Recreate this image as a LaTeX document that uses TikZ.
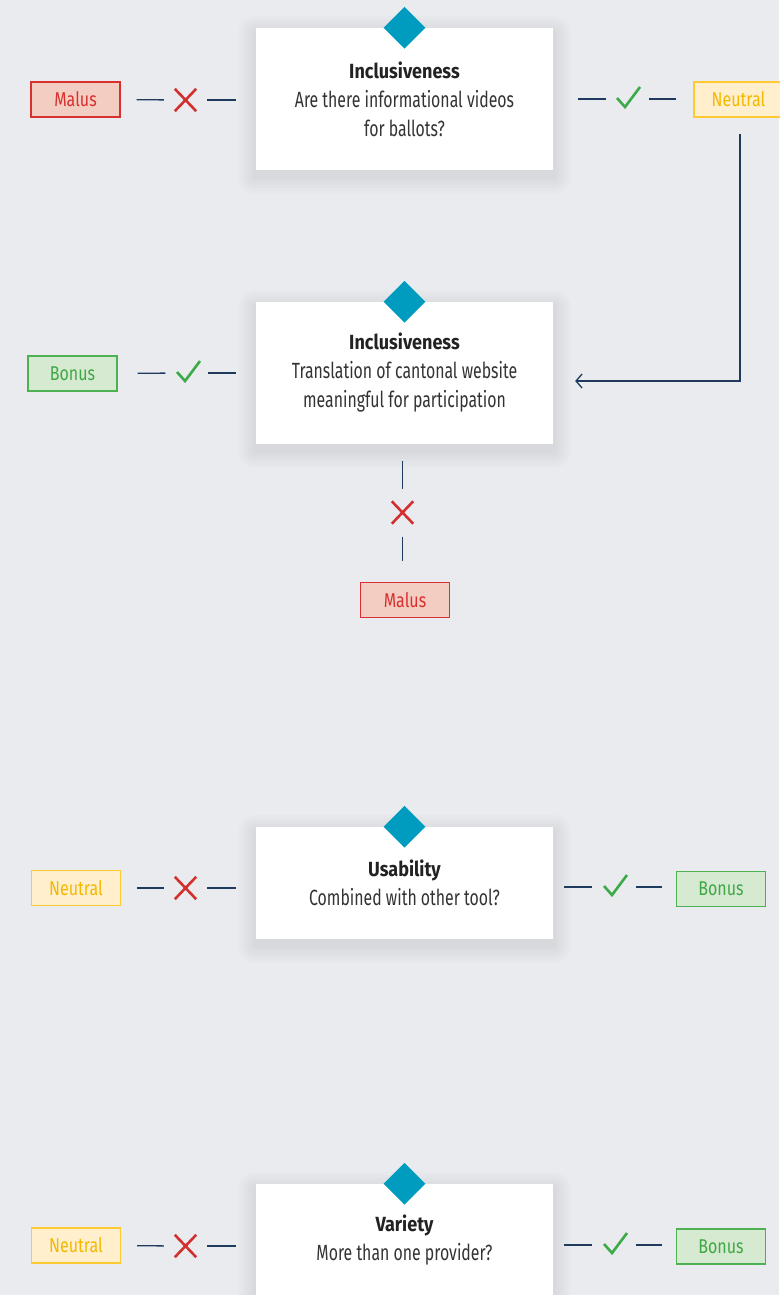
\documentclass[tikz,border=0pt]{standalone}
\usepackage{fontspec}
\setmainfont[FakeStretch=0.72]{Fira Sans}
\newfontfamily\ttlfont[FakeStretch=0.88]{Fira Sans}
\newfontfamily\tagfont[FakeStretch=0.8]{Fira Sans}
\usetikzlibrary{shapes.geometric,arrows.meta,calc}
\definecolor{bgc}{HTML}{E9EBEF}
\definecolor{teal}{HTML}{009CC0}
\definecolor{navy}{HTML}{1E3A5F}
\definecolor{txt}{HTML}{333333}
\definecolor{ttl}{HTML}{222222}
\definecolor{redL}{HTML}{D7302F}
\definecolor{redF}{HTML}{F4CDC2}
\definecolor{yelL}{HTML}{FFC933}
\definecolor{yelF}{HTML}{FFEFCC}
\definecolor{yelT}{HTML}{F5B800}
\definecolor{grnL}{HTML}{4DB152}
\definecolor{grnF}{HTML}{D6E9D1}
\definecolor{grnT}{HTML}{3FA845}
\definecolor{xred}{HTML}{D32F2F}
\definecolor{ckg}{HTML}{3DAA48}
\pgfdeclarelayer{back}\pgfdeclarelayer{shadow}
\pgfsetlayers{back,shadow,main}
\tikzset{
  card/.style={fill=white, minimum width=297pt, inner sep=0pt, align=center,
    font=\fontsize{22}{29}\selectfont, text=txt},
  dia/.style={diamond, fill=teal, minimum width=42pt, minimum height=42pt, inner sep=0pt},
  tag/.style={minimum width=89pt, minimum height=35pt, inner sep=0pt, line width=1.2pt,
    font=\tagfont\fontsize{20}{22}\selectfont},
  malus/.style={tag, draw=redL, fill=redF, text=redL},
  neutral/.style={tag, draw=yelL, fill=yelF, text=yelT},
  bonus/.style={tag, draw=grnL, fill=grnF, text=grnT},
  mk/.style={minimum width=21pt, minimum height=22pt, inner sep=0pt},
  xline/.style={draw=xred, line width=2.6pt},
  cline/.style={draw=ckg, line width=2.6pt, line join=miter},
  seg/.style={draw=navy, line width=1.3pt},
  conn/.style={draw=navy, line width=1.3pt, -{Straight Barb[length=6pt,width=14pt,line width=1.3pt]}},
}
\newcommand{\ttl}[1]{{\color{ttl}\ttlfont\bfseries\fontsize{20.5}{29}\selectfont #1}}
\begin{document}
\begin{tikzpicture}[x=1pt,y=-1pt]
\begin{pgfonlayer}{back}
\fill[bgc] (0,0) rectangle (779,1295);
\end{pgfonlayer}
\useasboundingbox (0,0) rectangle (779,1295);

% cards
\node[card, minimum height=142pt] (c1) at (404.5,99) {\ttl{Inclusiveness}\\Are there informational videos\\for ballots?};
\node[card, minimum height=142pt] (c2) at (404.5,373) {\ttl{Inclusiveness}\\Translation of cantonal website\\meaningful for participation};
\node[card, minimum height=112pt] (c3) at (404.5,883) {\ttl{Usability}\\Combined with other tool?};
\node[card, minimum height=112pt] (c4) at (404.5,1240) {\ttl{Variety}\\More than one provider?};

\begin{pgfonlayer}{shadow}
\foreach \c in {c1,c2,c3,c4}{
  \foreach \s in {3,6,...,18}{
    \fill[black, opacity=0.011, rounded corners=\s pt]
      ([shift={(-\s,-\s+6)}]\c.north west) rectangle ([shift={(\s,\s+6)}]\c.south east);
  }
}
\end{pgfonlayer}

\node[dia] (d1) at (c1.north) {};
\node[dia] (d2) at (c2.north) {};
\node[dia] (d3) at (c3.north) {};
\node[dia] (d4) at (c4.north) {};

% tags
\node[malus] (t1l) at (75.5,99.5) {Malus};
\node[neutral] (t1r) at (738.5,99.5) {Neutral};
\node[bonus] (t2l) at (72.5,373.5) {Bonus};
\node[malus] (t2b) at (405,600) {Malus};
\node[neutral] (t3l) at (76,888) {Neutral};
\node[bonus] (t3r) at (721,889) {Bonus};
\node[neutral] (t4l) at (76,1245.5) {Neutral};
\node[bonus] (t4r) at (721,1246.5) {Bonus};

% marks
\node[mk] (x1) at (185.5,100) {};
\node[mk] (k1) at (628,99) {};
\node[mk] (k2) at (188,373) {};
\node[mk] (x2) at (402.5,512.5) {};
\node[mk] (x3) at (185.5,888) {};
\node[mk] (k3) at (615,887) {};
\node[mk] (x4) at (185.5,1246) {};
\node[mk] (k4) at (615,1245) {};

\foreach \n in {x1,x2,x3,x4}{
  \draw[xline] (\n.north west) -- (\n.south east) (\n.north east) -- (\n.south west);
}
\foreach \n in {k1,k2,k3,k4}{
  \draw[cline] ([shift={(-11,-1)}]\n.center) -- ([shift={(-3,8)}]\n.center) -- ([shift={(12,-12)}]\n.center);
}

% short connectors
\draw[seg, shorten <=16pt, shorten >=11pt] (t1l.east) -- (x1.west);
\draw[seg, shorten <=11pt, shorten >=20pt] (x1.east) -- (x1.east -| c1.west);
\draw[seg, shorten <=25pt, shorten >=11pt] (c1.east |- k1.west) -- (k1.west);
\draw[seg, shorten <=10pt, shorten >=17pt] (k1.east) -- (k1.east -| t1r.west);

\draw[seg, shorten <=20pt, shorten >=12pt] (t2l.east) -- (k2.west);
\draw[seg, shorten <=9pt, shorten >=20pt] (k2.east) -- (k2.east -| c2.west);
\draw[seg, shorten <=17pt, shorten >=12pt] (c2.south -| x2.north) -- (x2.north);
\draw[seg, shorten <=13pt, shorten >=21pt] (x2.south) -- (x2.south |- t2b.north);

\draw[seg, shorten <=16pt, shorten >=11pt] (t3l.east) -- (x3.west);
\draw[seg, shorten <=11pt, shorten >=20pt] (x3.east) -- (x3.east -| c3.west);
\draw[seg, shorten <=11pt, shorten >=12pt] (c3.east |- k3.west) -- (k3.west);
\draw[seg, shorten <=10pt, shorten >=14pt] (k3.east) -- (k3.east -| t3r.west);

\draw[seg, shorten <=16pt, shorten >=11pt] (t4l.east) -- (x4.west);
\draw[seg, shorten <=11pt, shorten >=20pt] (x4.east) -- (x4.east -| c4.west);
\draw[seg, shorten <=11pt, shorten >=12pt] (c4.east |- k4.west) -- (k4.west);
\draw[seg, shorten <=10pt, shorten >=14pt] (k4.east) -- (k4.east -| t4r.west);

% long connector
\draw[conn, shorten <=16pt, shorten >=22pt] ([xshift=1.5pt]t1r.south) |- ([yshift=-8pt]c2.east);
\end{tikzpicture}
\end{document}
